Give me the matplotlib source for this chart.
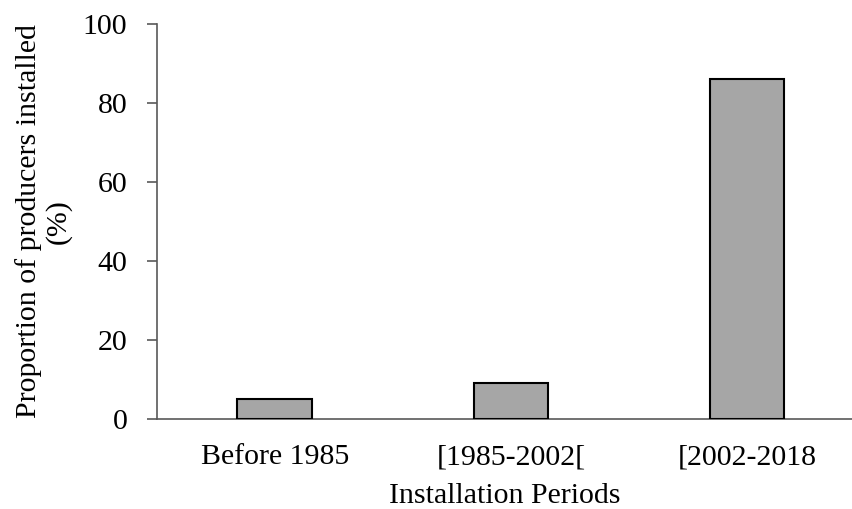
import matplotlib.pyplot as plt

# data
periods = ["Before 1985", "[1985-2002[", "[2002-2018"]
shares = [5, 9, 86]
yticks = [0, 20, 40, 60, 80, 100]

plt.rcParams['font.family'] = ['Liberation Serif', 'DejaVu Serif']

fig = plt.figure(figsize=(8.53, 5.09), dpi=100)
ax = fig.add_axes([0.1835, 0.1768, 0.8165, 0.7766])

x = range(len(periods))
ax.bar(x, shares, width=0.316, color='#a6a6a6', edgecolor='black', linewidth=1.5, zorder=3)

ax.set_xlim(-0.5, 2.448)
ax.set_ylim(0, 100)
ax.set_yticks(yticks)
ax.set_xticks(list(x))
ax.set_xticklabels(periods)

for s in ['top', 'right']:
    ax.spines[s].set_visible(False)
for s in ['left', 'bottom']:
    ax.spines[s].set_color('#595959')
    ax.spines[s].set_linewidth(1.2)

ax.tick_params(axis='y', length=7, width=1.2, color='#595959', pad=14, labelsize=21.5)
ax.tick_params(axis='x', length=0, pad=18, labelsize=21.5)

ax.set_xlabel("Installation Periods", fontsize=21.5, labelpad=9)
ax.set_ylabel("Proportion of producers installed\n(%)", fontsize=21.5, labelpad=8, linespacing=1.12)

fig.savefig("out.png", dpi=100)
